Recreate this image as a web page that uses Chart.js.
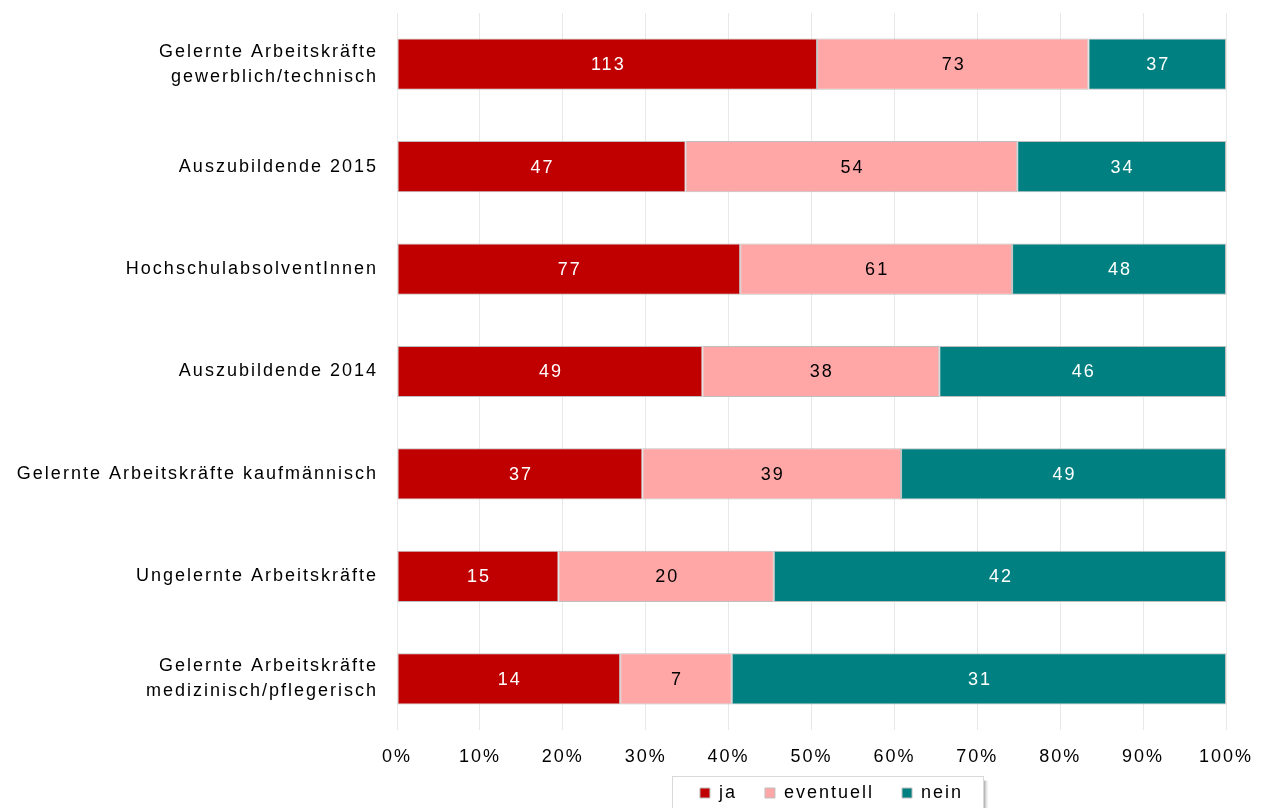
<!DOCTYPE html>
<html>
<head>
<meta charset="utf-8">
<script src="https://cdn.jsdelivr.net/npm/chart.js@4.4.0/dist/chart.umd.min.js"></script>
<style>
  html, body { margin: 0; padding: 0; background: #fff; overflow: hidden; }
  canvas { display: block; }
</style>
</head>
<body>
<canvas id="chart" width="1264" height="808"></canvas>
<script>
const categories = [
  ["Gelernte Arbeitskräfte", "gewerblich/technisch"],
  "Auszubildende 2015",
  "HochschulabsolventInnen",
  "Auszubildende 2014",
  "Gelernte Arbeitskräfte kaufmännisch",
  "Ungelernte Arbeitskräfte",
  ["Gelernte Arbeitskräfte", "medizinisch/pflegerisch"]
];
const jaCounts        = [113, 47, 77, 49, 37, 15, 14];
const eventuellCounts = [73, 54, 61, 38, 39, 20, 7];
const neinCounts      = [37, 34, 48, 46, 49, 42, 31];
const seriesNames  = ["ja", "eventuell", "nein"];
const seriesColors = ["#C00000", "#FFA6A6", "#008080"];
const labelColors  = ["#ffffff", "#000000", "#ffffff"];

const FONT = '"Liberation Sans", Arial, sans-serif';
const SPACING = "2px";

// bars are shares of the row total, labels show the counts
const totals = jaCounts.map((v, i) => v + eventuellCounts[i] + neinCounts[i]);
const toPercent = arr => arr.map((v, i) => v / totals[i] * 100);

const allCounts = [jaCounts, eventuellCounts, neinCounts];

const letterSpacing = {
  id: "letterSpacing",
  beforeLayout(chart) { chart.ctx.letterSpacing = SPACING; },
  beforeDraw(chart) { chart.ctx.letterSpacing = SPACING; }
};

const valueLabels = {
  id: "valueLabels",
  afterDatasetsDraw(chart) {
    const ctx = chart.ctx;
    ctx.save();
    ctx.font = "18px " + FONT;
    ctx.letterSpacing = SPACING;
    ctx.textAlign = "center";
    ctx.textBaseline = "middle";
    chart.data.datasets.forEach((ds, i) => {
      chart.getDatasetMeta(i).data.forEach((bar, j) => {
        ctx.fillStyle = labelColors[i];
        ctx.fillText(String(allCounts[i][j]), (bar.x + bar.base) / 2 + 1, bar.y + 1);
      });
    });
    ctx.restore();
  }
};

const legendFrame = {
  id: "legendFrame",
  afterLayout(chart) {
    const lg = chart.legend;
    lg.left += 20;
    lg.right += 20;
    lg.top -= 12;
    lg.bottom -= 12;
  },
  afterDraw(chart) {
    const lg = chart.legend;
    const pad = lg.options.labels.padding;
    const w = lg.lineWidths[0];
    const startX = (lg.left + pad + lg.right - w) / 2;
    const x0 = Math.round(startX - 28) + 0.5;
    const x1 = Math.round(startX + w - pad + 20) + 0.5;
    const y0 = 776.5, y1 = 820;
    const ctx = chart.ctx;
    ctx.save();
    // soft shadow on the right side
    [0.28, 0.18, 0.1, 0.05].forEach((a, k) => {
      ctx.strokeStyle = "rgba(0,0,0," + a + ")";
      ctx.lineWidth = 1;
      ctx.beginPath();
      ctx.moveTo(x1 + 1 + k, y0 + 4);
      ctx.lineTo(x1 + 1 + k, y1);
      ctx.stroke();
    });
    ctx.strokeStyle = "#d9d9d9";
    ctx.lineWidth = 1;
    ctx.strokeRect(x0, y0, x1 - x0, y1 - y0);
    ctx.restore();
  }
};

new Chart(document.getElementById("chart"), {
  type: "bar",
  data: {
    labels: categories,
    datasets: seriesNames.map((name, i) => ({
      label: name,
      data: toPercent(allCounts[i]),
      backgroundColor: seriesColors[i],
      borderColor: "#bfbfbf",
      borderWidth: 1,
      borderSkipped: false,
      barPercentage: 0.5,
      categoryPercentage: 1
    }))
  },
  options: {
    indexAxis: "y",
    responsive: false,
    animation: false,
    layout: { padding: { left: 4, right: 38, top: 13, bottom: -16 } },
    plugins: {
      legend: {
        position: "bottom",
        fullSize: false,
        labels: {
          boxWidth: 10,
          boxHeight: 10,
          padding: 28,
          color: "#000",
          font: { family: FONT, size: 18 }
        }
      },
      tooltip: { enabled: false }
    },
    scales: {
      x: {
        stacked: true,
        min: 0,
        max: 100,
        ticks: {
          stepSize: 10,
          callback: v => v + "%",
          color: "#000",
          padding: 16,
          font: { family: FONT, size: 18 }
        },
        grid: { color: "#e8e8e8", drawTicks: false },
        border: { display: false },
        afterFit(scale) {
          scale.height = 38;
          scale.paddingLeft = 0;
          scale.paddingRight = 0;
        }
      },
      y: {
        stacked: true,
        ticks: {
          color: "#000",
          padding: 11,
          font: { family: FONT, size: 18, lineHeight: 1.4 }
        },
        grid: { display: false },
        border: { display: false },
        afterFit(scale) {
          scale.width = 393;
          scale.paddingTop = 0;
          scale.paddingBottom = 0;
        }
      }
    }
  },
  plugins: [letterSpacing, valueLabels, legendFrame]
});
</script>
</body>
</html>
